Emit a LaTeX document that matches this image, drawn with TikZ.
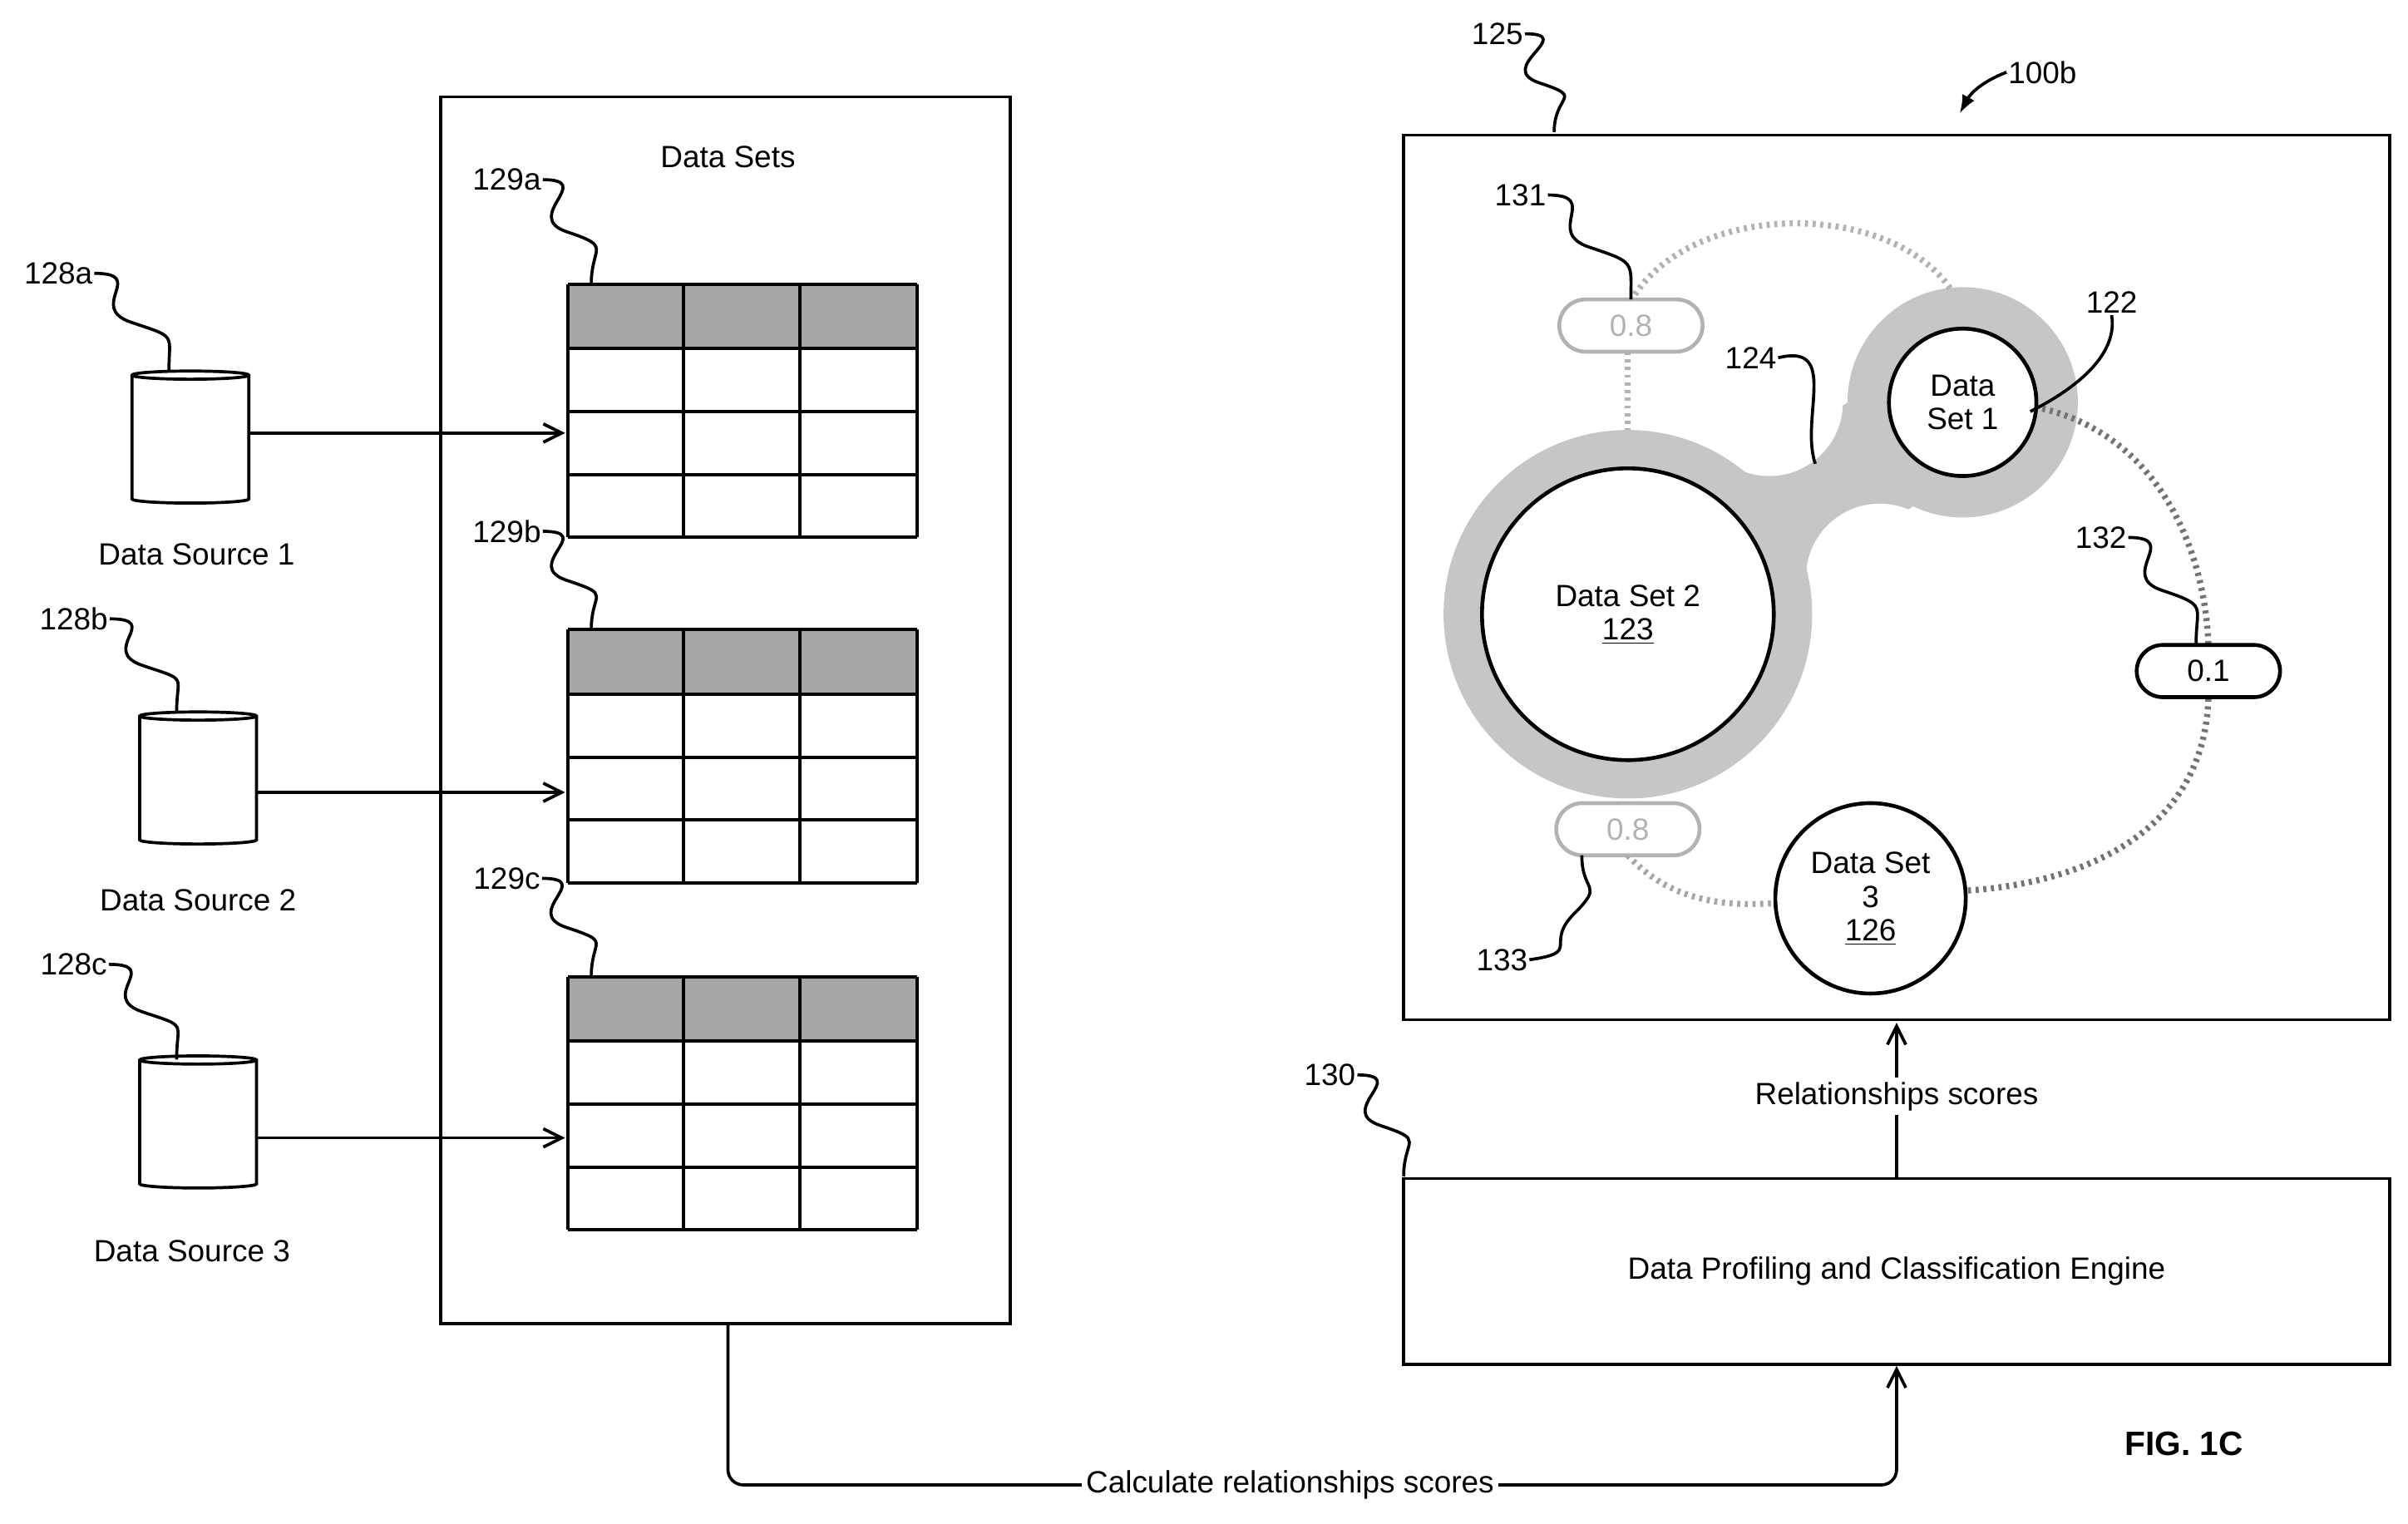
\documentclass[tikz,border=0pt]{standalone}
\usepackage{fontspec}
\setmainfont{Liberation Sans}
\usetikzlibrary{shapes.geometric,shapes.misc,arrows.meta,calc}
\tikzset{
  lbl/.style={font=\fontsize{20}{22}\selectfont, inner sep=1pt},
  cyl/.style={cylinder, shape border rotate=90, aspect=0.8, draw, line width=2pt, minimum width=76pt, minimum height=86pt},
  pill/.style={rounded rectangle, draw, line width=2.5pt, minimum width=100pt, minimum height=34pt, font=\fontsize{20}{22}\selectfont},
  link/.style={line width=2pt, -{Straight Barb[length=12pt,width=12pt,line width=2pt]}},
  dots/.style={line width=4pt, dash pattern=on 2pt off 3pt},
}
\newcommand\squig[2]{\draw[line width=2pt] (#1) .. controls +(35,0) and +(-30,-10) .. ($(#1)!.5!(#2)$) .. controls +(30,10) and +(0,-25) .. (#2);}
\newcommand\dtable[2]{%
  \fill[gray!70] (370,#1) rectangle (597,#1+42);
  \foreach \yy in {0,42,83,124,165} \draw[line width=2.2pt] (370,#1+\yy) -- (597,#1+\yy);
  \foreach \xx in {370,445,521,597} \draw[line width=2.2pt] (\xx,#1) -- (\xx,#1+165);
  \coordinate (#2) at (370,#1);}
\begin{document}
\begin{tikzpicture}[x=1pt,y=-1pt]
\useasboundingbox (0,0) rectangle (1568,992);
% data sets
\draw[line width=2pt] (287,63) rectangle (658,862);
\node[lbl] (dstitle) at (474,102) {Data Sets};
\coordinate (dsbot) at (474,862);
\dtable{185}{tA}
\dtable{410}{tB}
\dtable{636}{tC}
% sources
\node[cyl] (srcA) at (124,287) {};
\node[cyl] (srcB) at (129,509) {};
\node[cyl] (srcC) at (129,733) {};
\node[lbl] (srcAl) at (128,361) {Data Source 1};
\node[lbl] (srcBl) at (129,586) {Data Source 2};
\node[lbl] (srcCl) at (125,815) {Data Source 3};
\coordinate (inA) at (368,282);
\coordinate (inB) at (368,516);
\coordinate (inC) at (368,741);
\draw[link] (srcA.east |- inA) -- (inA);
\draw[link] (srcB.east |- inB) -- (inB);
\draw[link] (srcC.east |- inC) -- (inC);
% reference labels left
\node[lbl] (r128a) at (38,178) {128a};
\node[lbl] (r128b) at (48,403) {128b};
\node[lbl] (r128c) at (48,628) {128c};
\node[lbl] (r129a) at (330,117) {129a};
\node[lbl] (r129b) at (330,346) {129b};
\node[lbl] (r129c) at (330,572) {129c};
\squig{r128a.east}{110,242}
\squig{r128b.east}{115,464}
\squig{r128c.east}{115,690}
\squig{r129a.east}{385,185}
\squig{r129b.east}{385,410}
\squig{r129c.east}{385,636}
% graph box
\draw[line width=2pt] (914,88) rectangle (1556,664);
\node[lbl] (r125) at (975,22) {125};
\squig{r125.east}{1012,86}
\node[lbl] (r100b) at (1330,47) {100b};
\draw[line width=2pt,-{Latex[length=12pt]}] (r100b.west) to[bend right=20] (1276,74);
% halo
\draw[gray!45,line width=80pt] (1060,400) -- (1278,262);
\fill[white] (1152,262) circle (48);
\fill[white] (1224,376) circle (48);
\fill[gray!45] (1060,400) circle (120);
\fill[gray!45] (1278,262) circle (75);
% dotted links
\draw[dots,gray!60] (1062,196) .. controls (1100,130) and (1230,130) .. (1270,188);
\draw[dots,gray!60] (1060,229) -- (1060,280);
\draw[dots,gray!70] (1060,557) .. controls (1090,590) and (1130,590) .. (1157,588);
\draw[dots,gray!90!black] (1325,265) .. controls (1400,280) and (1435,350) .. (1438,419);
\draw[dots,gray!90!black] (1438,455) .. controls (1435,540) and (1360,575) .. (1280,580);
\node[circle,draw,line width=2.5pt,fill=white,minimum size=190pt,align=center,font=\fontsize{20}{22}\selectfont] (set2) at (1060,400) {Data Set 2\\\underline{123}};
\node[circle,draw,line width=2.5pt,fill=white,minimum size=96pt,align=center,font=\fontsize{20}{22}\selectfont] (set1) at (1278,262) {Data\\Set 1};
\node[circle,draw,line width=2.5pt,fill=white,minimum size=124pt,align=center,font=\fontsize{20}{22}\selectfont] (set3) at (1218,585) {Data Set\\3\\\underline{126}};
\node[pill,draw=gray!60,text=gray!60,fill=white] (p131) at (1062,212) {0.8};
\node[pill,fill=white] (p132) at (1438,437) {0.1};
\node[pill,draw=gray!60,text=gray!60,fill=white] (p133) at (1060,540) {0.8};
\node[lbl] (r131) at (990,127) {131};
\node[lbl] (r124) at (1140,233) {124};
\node[lbl] (r122) at (1375,197) {122};
\node[lbl] (r132) at (1368,350) {132};
\node[lbl] (r133) at (978,625) {133};
\squig{r131.east}{1062,195}
\draw[line width=2pt] (r124.east) .. controls +(40,-10) and +(-10,-30) .. (1182,302);
\draw[line width=2pt] (r122.south) .. controls +(5,30) and +(20,-10) .. (1322,268);
\squig{r132.east}{1430,419}
\draw[line width=2pt] (r133.east) .. controls +(35,-5) and +(-20,20) .. (1025,595) .. controls +(20,-20) and +(0,25) .. (1030,557);
% engine
\node[draw,line width=2pt,minimum width=642pt,minimum height=121pt,lbl] (engine) at (1235,828) {Data Profiling and Classification Engine};
\node[lbl] (r130) at (866,700) {130};
\squig{r130.east}{914,766}
\draw[link] (engine.north -| 1235,0) -- (1235,666);
\node[lbl,fill=white,inner sep=3pt] (relsc) at (1235,714) {Relationships scores};
\draw[line width=2pt,rounded corners=10pt] (dsbot) -- (474,967) -- (1235,967) -- (1235,950);
\draw[link] (1235,950) -- (engine.south -| 1235,0);
\node[lbl,fill=white,inner sep=3pt] (calc) at (840,967) {Calculate relationships scores};
\node[font=\bfseries\fontsize{22}{24}\selectfont] (fig) at (1422,940) {FIG. 1C};
\end{tikzpicture}
\end{document}
